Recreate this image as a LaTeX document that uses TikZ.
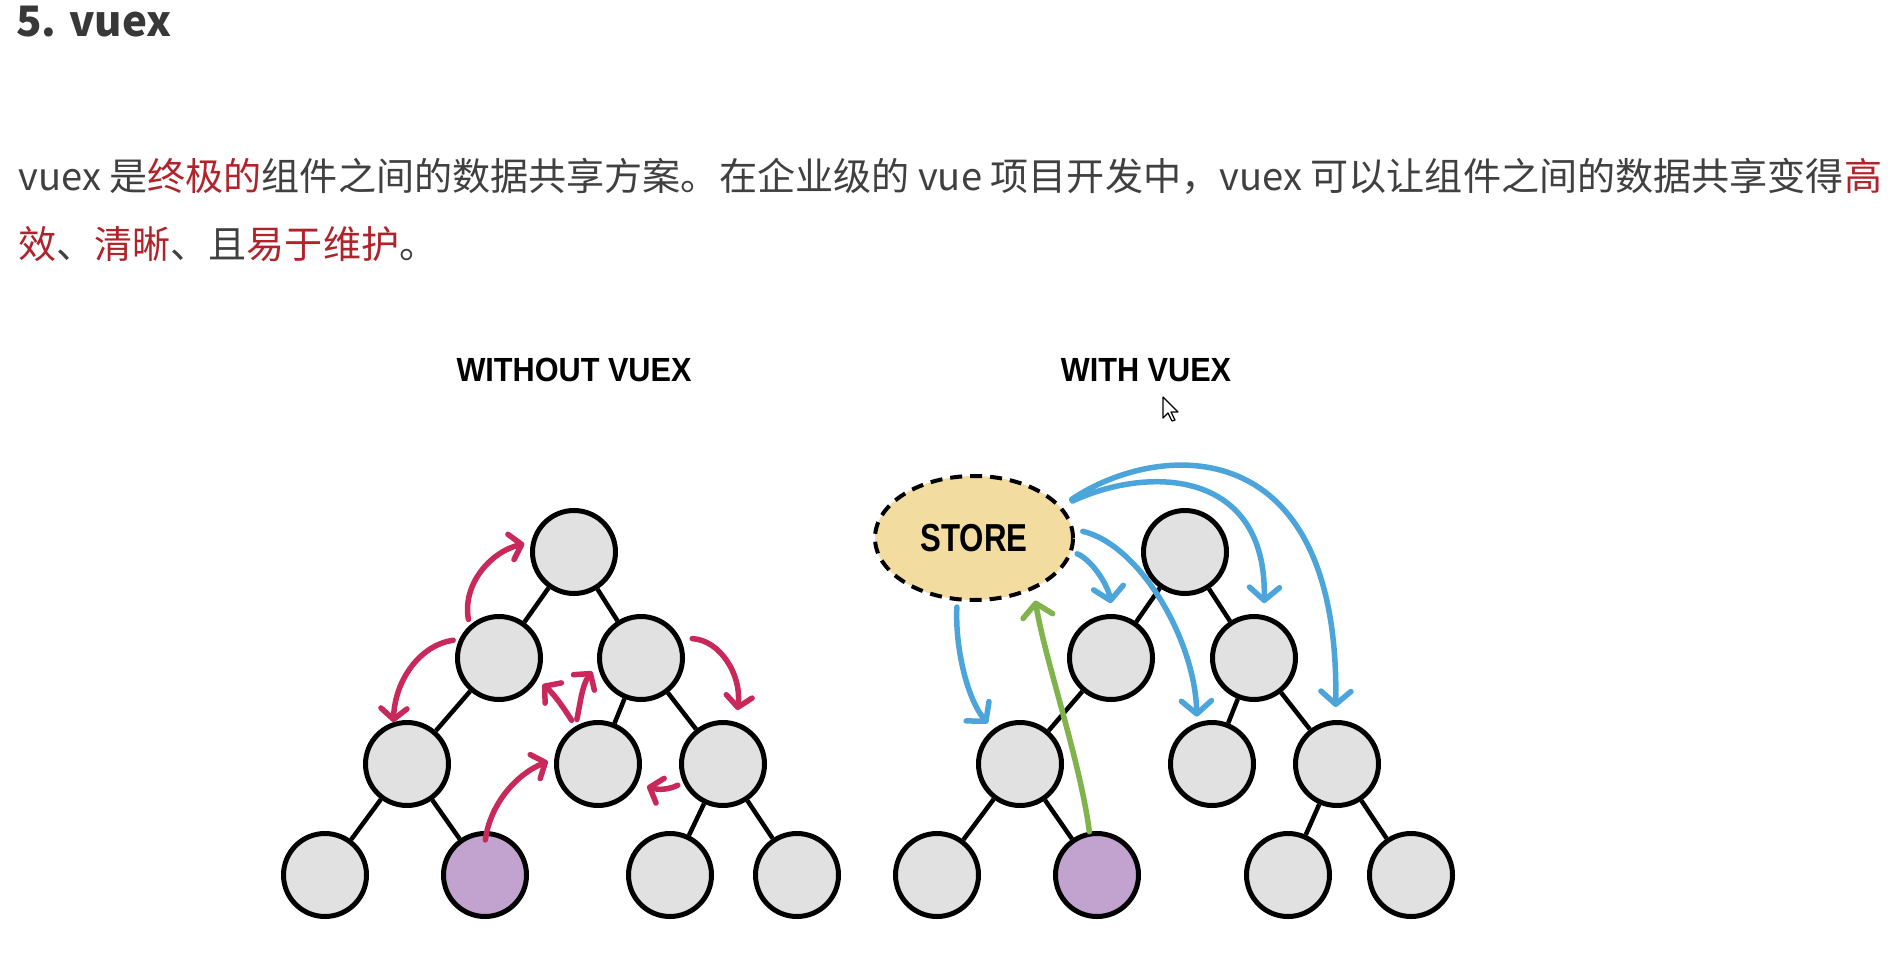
\documentclass[tikz,border=0pt]{standalone}
\usepackage{fontspec}
\setmainfont{Noto Sans CJK SC}
\newfontfamily\labelfont{Liberation Sans}
\usetikzlibrary{arrows.meta,shapes.geometric}
\definecolor{textgray}{HTML}{404040}
\definecolor{titlegray}{HTML}{383838}
\definecolor{hlred}{HTML}{B0232B}
\definecolor{compgray}{HTML}{E1E1E1}
\definecolor{comppurple}{HTML}{C2A2CE}
\definecolor{storefill}{HTML}{F2DCA0}
\definecolor{arrred}{HTML}{C8285A}
\definecolor{arrblue}{HTML}{4CA5DA}
\definecolor{arrgreen}{HTML}{80B34C}
\newcommand\redtxt[1]{\textcolor{hlred}{#1}}
\begin{document}
\begin{tikzpicture}
    [x=1pt,y=-1pt,
     comp/.style={circle,draw=black,line width=5pt,fill=compgray,
       minimum size=83pt,inner sep=0pt},
     picked/.style={comp,fill=comppurple},
     link/.style={line width=4.5pt,black},
     redarr/.style={line width=5.5pt,draw=arrred,line cap=round,
       -{Straight Barb[length=11pt,width=26pt,round]}},
     bluearr/.style={line width=5.5pt,draw=arrblue,line cap=round,
       -{Straight Barb[length=13pt,width=30pt,round]}},
     greenarr/.style={line width=5.5pt,draw=arrgreen,line cap=round,
       -{Straight Barb[length=13pt,width=30pt,round]}},
     heading/.style={font=\labelfont\bfseries\fontsize{33.5}{36}\selectfont,
       inner sep=0pt}]
    \fill[white] (0,0) rectangle (1894,960);
    \useasboundingbox (0,0) rectangle (1894,960);

    \node[anchor=base west,inner sep=0pt,text=titlegray,
      font=\bfseries\fontsize{42}{46}\selectfont] (title) at (16,37) {5. vuex};
    \node[anchor=base west,inner sep=0pt,text=textgray,
      font=\fontsize{38.1}{42}\selectfont] (line1) at (18,190)
      {vuex 是\redtxt{终极的}组件之间的数据共享方案。在企业级的 vue 项目开发中，vuex 可以让组件之间的数据共享变得\redtxt{高}};
    \node[anchor=base west,inner sep=0pt,text=textgray,
      font=\fontsize{38.1}{42}\selectfont] (line2) at (18,258)
      {\redtxt{效}、\redtxt{清晰}、且\redtxt{易于维护}。};

    \node[heading] (without) at (574,370) {\scalebox{0.915}[1]{WITHOUT VUEX}};
    \node[heading] (with) at (1146,370) {\scalebox{0.915}[1]{WITH VUEX}};

    % without vuex
    \node[comp] (aroot) at (574,552) {};
    \node[comp] (aL) at (499,658) {};
    \node[comp] (aR) at (641,658) {};
    \node[comp] (aLL) at (407,764) {};
    \node[comp] (aM) at (598,764) {};
    \node[comp] (aRR) at (723,764) {};
    \node[comp] (a1) at (325,875) {};
    \node[picked] (a2) at (485,875) {};
    \node[comp] (a3) at (670,875) {};
    \node[comp] (a4) at (797,875) {};
    \draw[link] (aroot) -- (aL);
    \draw[link] (aroot) -- (aR);
    \draw[link] (aL) -- (aLL);
    \draw[link] (aR) -- (aM);
    \draw[link] (aR) -- (aRR);
    \draw[link] (aLL) -- (a1);
    \draw[link] (aLL) -- (a2);
    \draw[link] (aRR) -- (a3);
    \draw[link] (aRR) -- (a4);

    \draw[redarr,shorten <=6pt,shorten >=7pt] (aL.132) .. controls (462,585) and (490,552) .. (aroot.167);
    \draw[redarr,shorten <=6pt] (aL.155) .. controls (420,645) and (395,680) .. (aLL.108);
    \draw[redarr,shorten <=12pt,shorten >=12pt] (aR.27) .. controls (720,640) and (742,675) .. (aRR.73);
    \draw[redarr,shorten <=7pt,shorten >=7pt] (aM.121) .. controls (562,705) and (552,692) .. (aL.-30);
    \draw[redarr,shorten <=7pt,shorten >=9pt] (aM.121) .. controls (580,705) and (582,685) .. (aR.188);
    \draw[redarr,shorten <=-9pt,shorten >=7pt] (a2.88) .. controls (490,805) and (515,775) .. (aM.173);
    \draw[redarr,shorten <=6pt,shorten >=10pt] (aRR.205) .. controls (668,790) and (658,790) .. (aM.-26);

    % with vuex
    \node[ellipse,draw=black,line width=4pt,dash pattern=on 12pt off 8pt,
      fill=storefill,minimum width=198pt,minimum height=124pt,inner sep=0pt,
      font=\labelfont\bfseries\fontsize{39}{40}\selectfont] (store) at (974,538)
      {\scalebox{0.8}[1]{STORE}};
    \node[comp] (broot) at (1185,552) {};
    \node[comp] (bL) at (1111,658) {};
    \node[comp] (bR) at (1254,658) {};
    \node[comp] (bLL) at (1020,764) {};
    \node[comp] (bM) at (1212,764) {};
    \node[comp] (bRR) at (1337,764) {};
    \node[comp] (b1) at (937,875) {};
    \node[picked] (b2) at (1097,875) {};
    \node[comp] (b3) at (1288,875) {};
    \node[comp] (b4) at (1411,875) {};
    \draw[link] (broot) -- (bL);
    \draw[link] (broot) -- (bR);
    \draw[link] (bL) -- (bLL);
    \draw[link] (bR) -- (bM);
    \draw[link] (bR) -- (bRR);
    \draw[link] (bLL) -- (b1);
    \draw[link] (bLL) -- (b2);
    \draw[link] (bRR) -- (b3);
    \draw[link] (bRR) -- (b4);

    \draw[bluearr,shorten <=6pt,shorten >=8pt] (store.255) .. controls (955,650) and (968,700) .. (bLL.128);
    \draw[bluearr,shorten <=5pt,shorten >=11pt] (store.-8) .. controls (1092,560) and (1108,585) .. (bL.88);
    \draw[bluearr,shorten <=9pt,shorten >=6pt] (store.5) .. controls (1140,545) and (1195,640) .. (bM.110);
    \draw[bluearr,shorten <=12pt,shorten >=12pt] (store.20) .. controls (1150,465) and (1267,470) .. (bR.77);
    \draw[bluearr,shorten <=12pt,shorten >=13pt] (store.20) .. controls (1160,440) and (1340,430) .. (bRR.92);
    \draw[greenarr,shorten >=11pt] (b2.100) .. controls (1080,760) and (1045,660) .. (store.-41);

    % mouse pointer
    \coordinate (pointer) at (1163,397);
    \draw[fill=white,line width=1.2pt,line join=round] (pointer) -- ++(0,21) -- ++(5,-5)
      -- ++(4,8) -- ++(3,-1) -- ++(-4,-8) -- ++(7,0) -- cycle;
\end{tikzpicture}
\end{document}
